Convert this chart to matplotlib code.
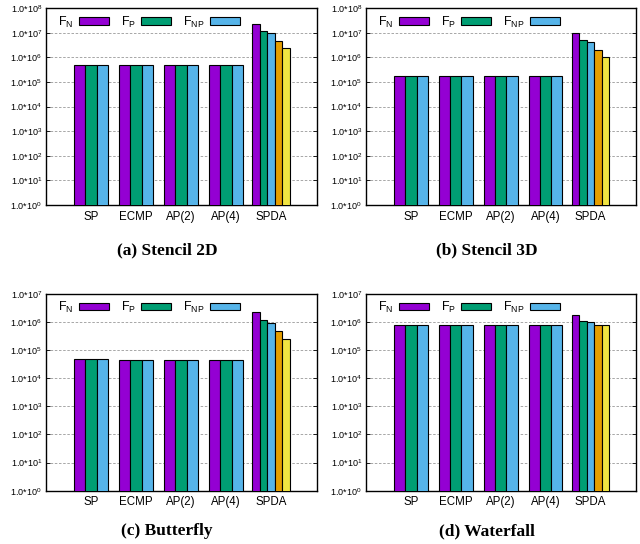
import matplotlib
matplotlib.use("Agg")
import matplotlib.pyplot as plt
import numpy as np

plt.rcParams["font.family"] = ["Liberation Sans", "DejaVu Sans"]
plt.rcParams["mathtext.fontset"] = "custom"
plt.rcParams["mathtext.rm"] = "Liberation Sans"
plt.rcParams["mathtext.it"] = "Liberation Sans"
plt.rcParams["mathtext.default"] = "regular"

#%% Data
categories = ["SP", "ECMP", "AP(2)", "AP(4)", "SPDA"]
series_labels = ["F$_{N}$", "F$_{P}$", "F$_{NP}$"]

# (a) Stencil 2D
st2d_fn = [5.0e5, 4.8e5, 4.8e5, 4.8e5, 2.3e7]
st2d_fp = [5.0e5, 4.8e5, 4.8e5, 4.8e5, 1.2e7]
st2d_fnp = [5.0e5, 4.8e5, 4.8e5, 4.8e5, 9.8e6]
st2d_spda_extra = [4.7e6, 2.4e6]

# (b) Stencil 3D
st3d_fn = [1.8e5, 1.7e5, 1.7e5, 1.7e5, 1.0e7]
st3d_fp = [1.8e5, 1.7e5, 1.7e5, 1.7e5, 5.2e6]
st3d_fnp = [1.75e5, 1.7e5, 1.7e5, 1.7e5, 4.2e6]
st3d_spda_extra = [2.05e6, 1.0e6]

# (c) Butterfly
bfly_fn = [4.8e4, 4.5e4, 4.5e4, 4.5e4, 2.3e6]
bfly_fp = [4.8e4, 4.5e4, 4.5e4, 4.5e4, 1.17e6]
bfly_fnp = [4.8e4, 4.5e4, 4.5e4, 4.5e4, 9.5e5]
bfly_spda_extra = [4.8e5, 2.5e5]

# (d) Waterfall
wf_fn = [7.6e5, 7.6e5, 7.6e5, 7.6e5, 1.78e6]
wf_fp = [7.6e5, 7.6e5, 7.6e5, 7.6e5, 1.08e6]
wf_fnp = [7.6e5, 7.6e5, 7.6e5, 7.6e5, 9.6e5]
wf_spda_extra = [7.7e5, 7.7e5]

COLORS = ["#9400D3", "#009E73", "#56B4E9", "#E69F00", "#F0E442"]


def draw_panel(ax, fn, fp, fnp, extra, ymax_exp):
    x = np.arange(len(categories) - 1)
    w = 0.252
    for k, vals in enumerate([fn, fp, fnp]):
        ax.bar(x + (k - 1) * w, vals[:-1], width=w, color=COLORS[k],
               edgecolor="black", linewidth=0.8, label=series_labels[k], zorder=3)
    # SPDA group has five bars
    spda = [fn[-1], fp[-1], fnp[-1]] + list(extra)
    ws = 0.168
    xs = len(categories) - 1 + (np.arange(5) - 2) * ws
    for k in range(5):
        ax.bar(xs[k], spda[k], width=ws, color=COLORS[k],
               edgecolor="black", linewidth=0.8, zorder=3)

    ax.set_yscale("log")
    ax.set_ylim(1, 10.0 ** ymax_exp)
    ax.set_xlim(-1.0, 5.02)
    exps = np.arange(0, ymax_exp + 1)
    ax.set_yticks(10.0 ** exps)
    ax.set_yticklabels([f"1.0*10$^{{{e}}}$" for e in exps], fontsize=6.5)
    ax.yaxis.set_minor_locator(matplotlib.ticker.NullLocator())
    ax.set_xticks(np.arange(len(categories)))
    ax.set_xticklabels(categories, fontsize=8.3)
    ax.tick_params(axis="x", length=0, pad=4)
    ax.tick_params(axis="y", direction="in", length=3, width=0.6, right=True, pad=3)
    ax.grid(axis="y", color="#999999", linestyle=(0, (3, 2)), linewidth=0.6, zorder=0)
    for s in ax.spines.values():
        s.set_linewidth(1.0)
    ax.legend(loc="upper left", ncol=3, markerfirst=False, frameon=False,
              fontsize=9, handlelength=2.4, handleheight=0.55, columnspacing=0.95,
              handletextpad=0.45, borderaxespad=0.2, borderpad=0.3,
              bbox_to_anchor=(0.02, 1.0))


fig = plt.figure(figsize=(6.4, 5.44), dpi=100)
ax_a = fig.add_axes([0.072, 0.623, 0.423, 0.362])
ax_b = fig.add_axes([0.572, 0.623, 0.422, 0.362])
ax_c = fig.add_axes([0.072, 0.098, 0.423, 0.362])
ax_d = fig.add_axes([0.572, 0.098, 0.422, 0.362])

draw_panel(ax_a, st2d_fn, st2d_fp, st2d_fnp, st2d_spda_extra, 8)
draw_panel(ax_b, st3d_fn, st3d_fp, st3d_fnp, st3d_spda_extra, 8)
draw_panel(ax_c, bfly_fn, bfly_fp, bfly_fnp, bfly_spda_extra, 7)
draw_panel(ax_d, wf_fn, wf_fp, wf_fnp, wf_spda_extra, 7)

cap = dict(ha="center", va="center", fontsize=12.5, fontweight="bold",
           family=["Liberation Serif", "DejaVu Serif"])
fig.text(0.261, 0.540, "(a) Stencil 2D", **cap)
fig.text(0.761, 0.540, "(b) Stencil 3D", **cap)
fig.text(0.261, 0.024, "(c) Butterfly", **cap)
fig.text(0.761, 0.024, "(d) Waterfall", **cap)

fig.savefig("out.png", dpi=100)
